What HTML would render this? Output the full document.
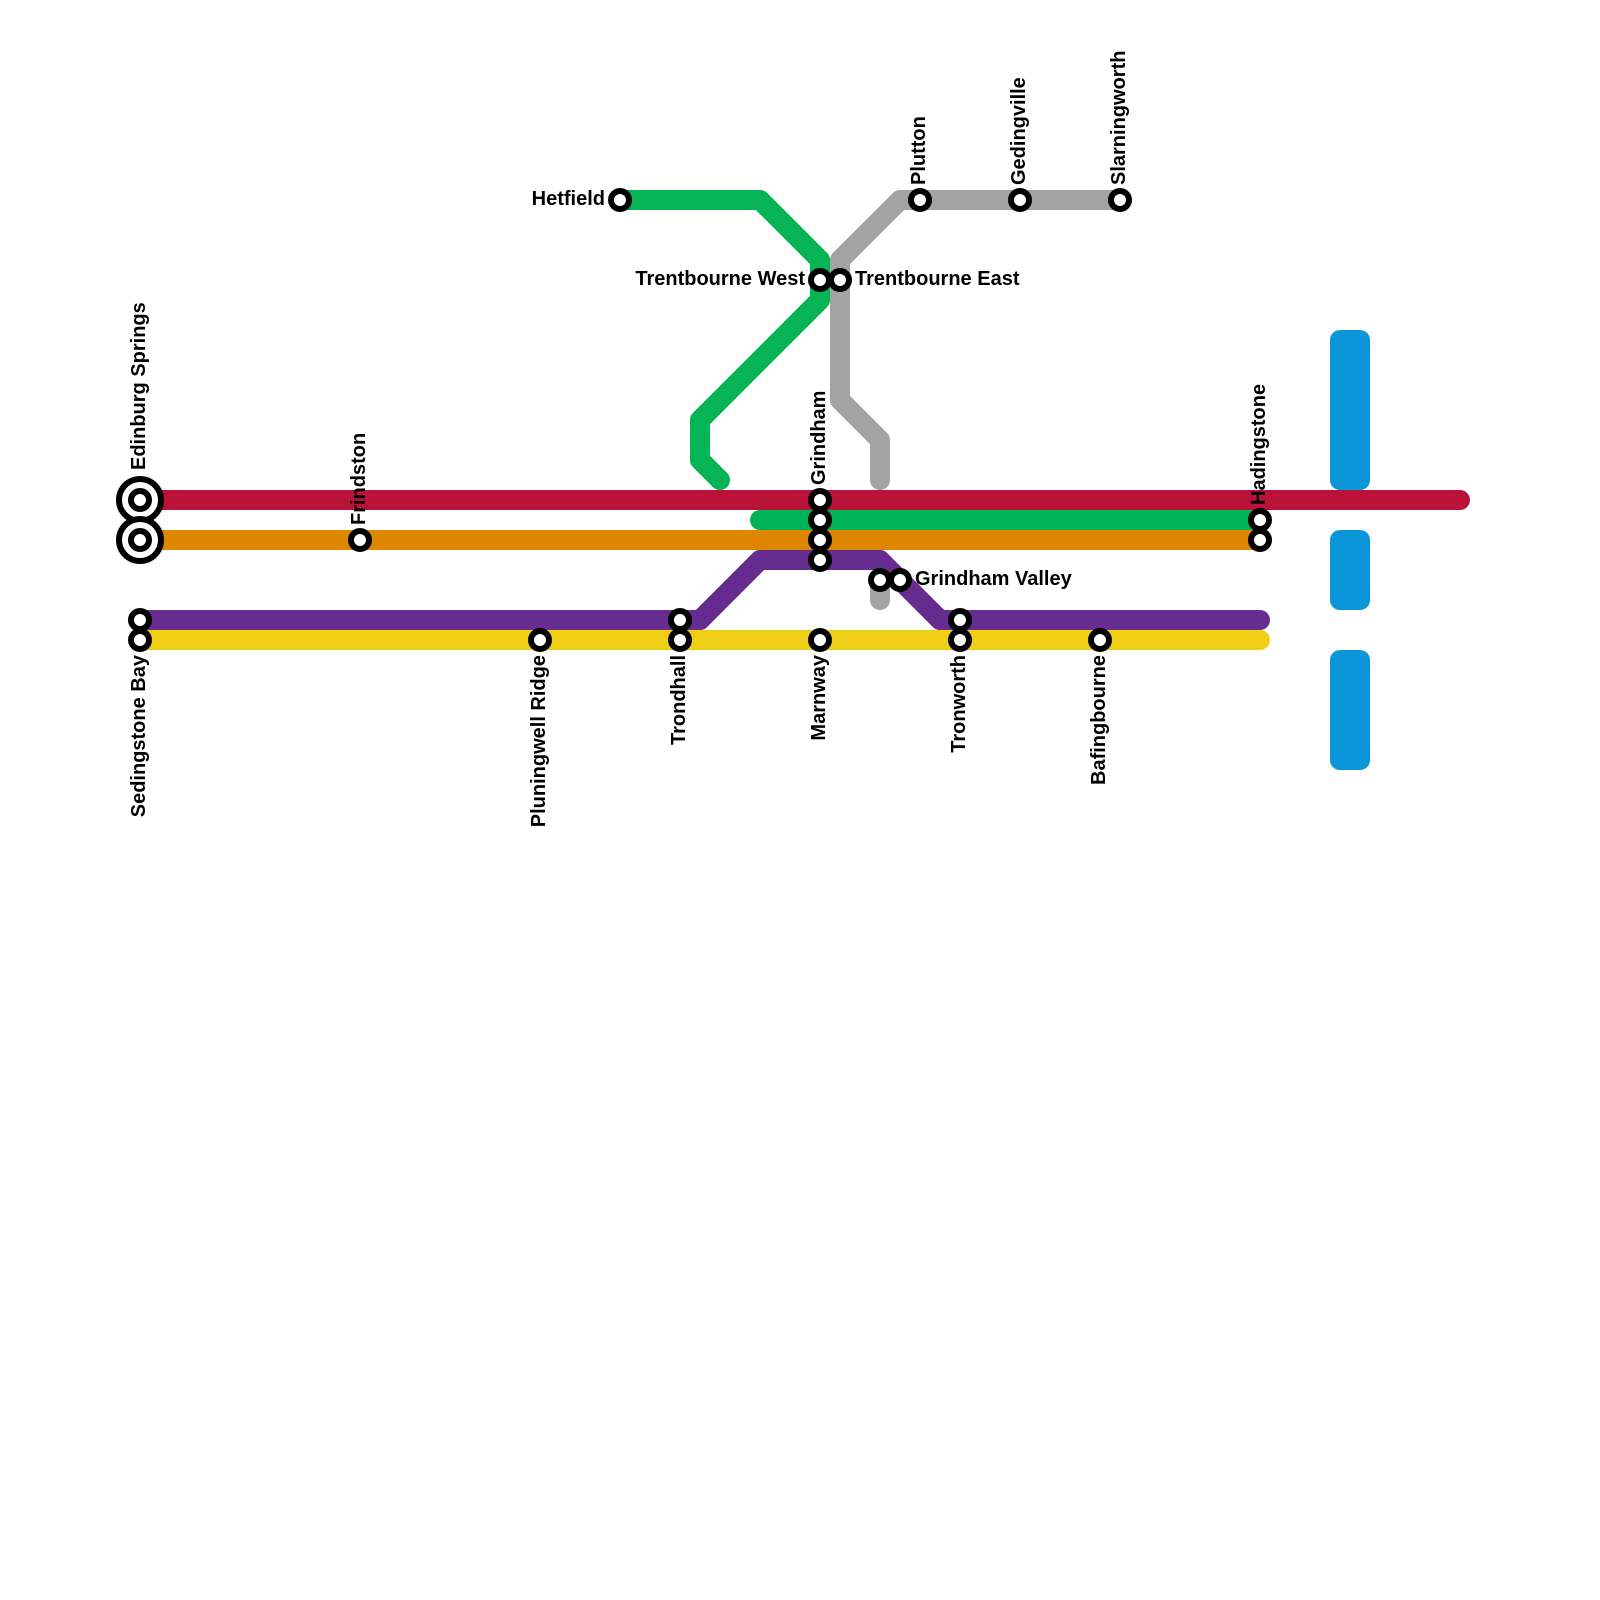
<!DOCTYPE html>
<html><head><meta charset="utf-8"><style>html,body{margin:0;padding:0;background:#fff}svg{display:block}text{font-family:"Liberation Sans",sans-serif;font-weight:bold;font-size:20px;fill:#000}</style></head><body>
<svg width="1600" height="1600" viewBox="0 0 1600 1600" xmlns="http://www.w3.org/2000/svg">
<rect width="1600" height="1600" fill="#fff"/>
<g fill="#0a96d8"><rect x="1330" y="330" width="40" height="160" rx="10"/><rect x="1330" y="530" width="40" height="80" rx="10"/><rect x="1330" y="650" width="40" height="120" rx="10"/></g>
<g fill="none" stroke-width="20" stroke-linecap="round" stroke-linejoin="round">
<path d="M1120 200H900L840 260V400L880 440V480M880 580V600" stroke="#a3a3a3"/>
<path d="M620 200H760L820 260V300L700 420V460L720 480" stroke="#06b456"/>
<path d="M140 500H1460" stroke="#bb1239"/>
<path d="M760 520H1260" stroke="#00b356"/>
<path d="M140 540H1260" stroke="#df8600"/>
<path d="M140 620H700L760 560H880L940 620H1260" stroke="#662c90"/>
<path d="M140 640H1260" stroke="#f0ce15"/>
</g>
<g fill="#fff" stroke="#000" stroke-width="6">
<circle cx="140" cy="500" r="21"/><circle cx="140" cy="540" r="21"/>
<circle cx="140" cy="500" r="9"/><circle cx="140" cy="540" r="9"/>
<circle cx="360" cy="540" r="9"/>
<circle cx="140" cy="620" r="9"/><circle cx="140" cy="640" r="9"/>
<circle cx="540" cy="640" r="9"/>
<circle cx="680" cy="620" r="9"/><circle cx="680" cy="640" r="9"/>
<circle cx="820" cy="500" r="9"/><circle cx="820" cy="520" r="9"/><circle cx="820" cy="540" r="9"/><circle cx="820" cy="560" r="9"/><circle cx="820" cy="640" r="9"/>
<circle cx="880" cy="580" r="9"/><circle cx="900" cy="580" r="9"/>
<circle cx="960" cy="620" r="9"/><circle cx="960" cy="640" r="9"/>
<circle cx="1100" cy="640" r="9"/>
<circle cx="1260" cy="520" r="9"/><circle cx="1260" cy="540" r="9"/>
<circle cx="620" cy="200" r="9"/>
<circle cx="820" cy="280" r="9"/><circle cx="840" cy="280" r="9"/>
<circle cx="920" cy="200" r="9"/><circle cx="1020" cy="200" r="9"/><circle cx="1120" cy="200" r="9"/>
</g>
<text x="605" y="205" text-anchor="end">Hetfield</text>
<text x="805" y="285" text-anchor="end">Trentbourne West</text>
<text x="855" y="285">Trentbourne East</text>
<text x="915" y="585">Grindham Valley</text>
<text transform="translate(145 470) rotate(-90)">Edinburg Springs</text>
<text transform="translate(365 525) rotate(-90)">Frindston</text>
<text transform="translate(825 485) rotate(-90)">Grindham</text>
<text transform="translate(1265 505) rotate(-90)">Hadingstone</text>
<text transform="translate(925 185) rotate(-90)">Plutton</text>
<text transform="translate(1025 185) rotate(-90)">Gedingville</text>
<text transform="translate(1125 185) rotate(-90)">Slarningworth</text>
<text transform="translate(145 655) rotate(-90)" text-anchor="end">Sedingstone Bay</text>
<text transform="translate(545 655) rotate(-90)" text-anchor="end">Pluningwell Ridge</text>
<text transform="translate(685 655) rotate(-90)" text-anchor="end">Trondhall</text>
<text transform="translate(825 655) rotate(-90)" text-anchor="end">Marnway</text>
<text transform="translate(965 655) rotate(-90)" text-anchor="end">Tronworth</text>
<text transform="translate(1105 655) rotate(-90)" text-anchor="end">Bafingbourne</text>
</svg></body></html>
